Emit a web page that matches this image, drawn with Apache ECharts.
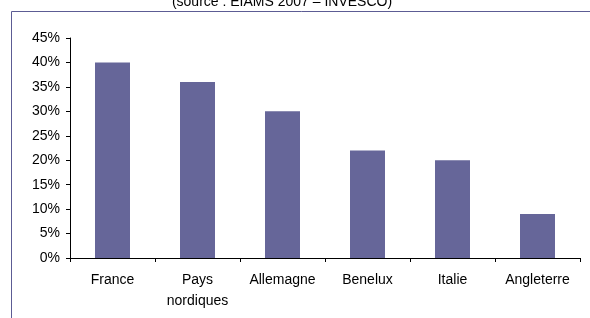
<!DOCTYPE html>
<html>
<head>
<meta charset="utf-8">
<script src="https://cdn.jsdelivr.net/npm/echarts@6/dist/echarts.min.js"></script>
<style>
html, body { margin: 0; padding: 0; background: #fff; }
#main { width: 590px; height: 318px; }
</style>
</head>
<body>
<div id="main"></div>
<script>
var categories = ['France', 'Pays\nnordiques', 'Allemagne', 'Benelux', 'Italie', 'Angleterre'];
var values = [40, 36, 30, 22, 20, 9];
var yTicks = [0, 5, 10, 15, 20, 25, 30, 35, 40, 45];

var myChart = echarts.init(document.querySelector('#main'));

var font = 'Liberation Sans, Arial, sans-serif';
var frameColor = '#5c5c94';

var option = {
    animation: false,
    title: {
        text: '(source : EIAMS 2007 \u2013 INVESCO)',
        left: 277,
        top: -10,
        textAlign: 'center',
        textStyle: { fontFamily: font, fontSize: 14, fontWeight: 'normal', color: '#000' },
    },
    graphic: [
        // cadre autour du graphique
        {
            type: 'rect',
            shape: { x: 11.5, y: 11.5, width: 600, height: 330 },
            style: { fill: null, stroke: frameColor, lineWidth: 1 },
            silent: true,
        },
    ],
    grid: { left: 70, right: 10, top: 38, bottom: 60 },
    xAxis: {
        type: 'category',
        data: categories,
        axisLine: { lineStyle: { color: '#000', width: 1 } },
        axisTick: { show: true, length: 4, lineStyle: { color: '#000' } },
        axisLabel: { fontFamily: font, fontSize: 14, color: '#000', margin: 12, lineHeight: 21, interval: 0 },
    },
    yAxis: {
        type: 'value',
        min: 0,
        max: 45,
        interval: 5,
        axisLine: { show: true, lineStyle: { color: '#000', width: 1 } },
        axisTick: { show: true, length: 4, lineStyle: { color: '#000' } },
        splitLine: { show: false },
        axisLabel: {
            fontFamily: font, fontSize: 14, color: '#000', margin: 10,
            formatter: function (v) { return yTicks.indexOf(v) >= 0 ? v + '%' : ''; },
        },
    },
    series: [
        {
            type: 'bar',
            data: values,
            barWidth: 35,
            itemStyle: { color: '#666699' },
        },
    ],
};

myChart.setOption(option);
</script>
</body>
</html>
